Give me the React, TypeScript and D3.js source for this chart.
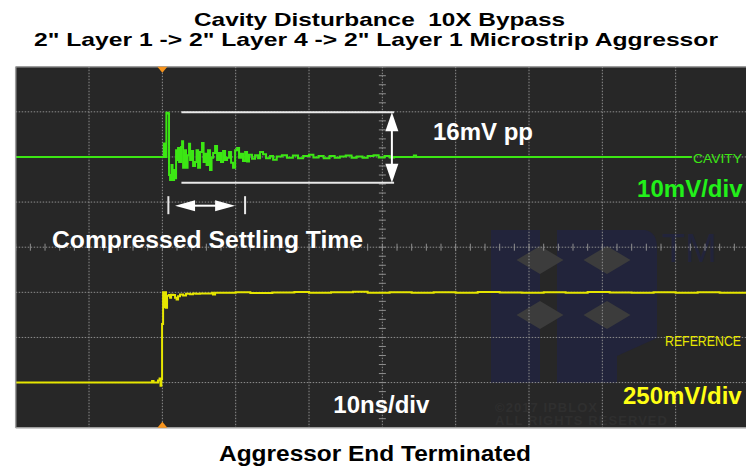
import React from 'react';
import * as d3 from 'd3';

// ---------- data ----------
const titleLines = ['Cavity Disturbance  10X Bypass', '2" Layer 1 -> 2" Layer 4 -> 2" Layer 1 Microstrip Aggressor'];
const footerText = 'Aggressor End Terminated';
const timeDomainNs: [number, number] = [-20, 80]; // 10 ns/div, 10 divisions
const divisionDomain: [number, number] = [-4, 4]; // 8 vertical divisions
const timeDivisions = 10;
const voltDivisions = 8;
const minorPerDiv = 5;

const cavityMvPerDiv = 10;
const cavityOffsetDiv = 2;
const referenceMvPerDiv = 250;
const referenceOffsetDiv = -3;

// [time ns, mV]
const cavitySamples: [number, number][] = [
  [-20, 0], [0, 0], [0.2, 3.0], [0.45, 0], [0.55, 9.8], [0.85, 9.6], [0.91, -4], [1.05, -5.1],
  [1.25, -1.8], [1.39, -5.1], [1.6, -2.9], [1.73, -4.7], [1.87, 1.5], [2.0, -0.7], [2.14, 2.0],
  [2.28, -1.1], [2.55, 2.2], [2.69, 3.5], [2.83, -2.4], [2.96, -1.8], [3.1, 1.5], [3.23, -2.4],
  [3.44, 0.4], [3.64, 2.9], [3.78, -0.7], [3.98, 1.3], [4.19, -2.0], [4.46, -1.1], [4.66, 1.5],
  [4.87, -2.4], [5.14, 1.1], [5.41, 3.1], [5.62, -1.1], [5.82, 0.7], [6.03, -1.8], [6.23, 1.5],
  [6.5, -2.9], [6.71, -0.2], [6.92, 0.9], [7.19, 2.4], [7.46, -0.7], [7.73, 0.9], [8.0, -1.1],
  [8.28, 1.3], [8.55, -0.7], [8.82, -0.2], [9.1, 1.1], [9.37, -1.3], [9.64, -2.4], [9.92, 1.5],
  [10.19, 2.0], [10.46, -0.2], [10.73, 0.7], [11.0, -0.9], [11.28, 1.1], [11.55, -1.0], [11.82, 0.5],
  [12.23, -0.4], [12.64, 0.4], [13.05, -0.3], [13.32, 1.1], [13.73, 0.6], [14.14, -0.3], [14.69, 0.2],
  [15.1, -0.6], [15.6, 0.1], [16.3, 0.4], [17, -0.2], [17.8, 0.3], [18.5, -0.3], [19.2, 0.2],
  [20, 0.5], [20.6, -0.1], [21.3, 0.2], [22, -0.3], [22.8, 0.2], [23.5, -0.2], [24.2, 0.1],
  [25, 0.3], [25.8, -0.2], [26.5, 0.1], [27.3, -0.2], [28, 0.2], [28.8, 0.4], [29.5, -0.1],
  [30.3, 0.2], [31, -0.1], [31.6, 0], [34, 0], [34.3, 0.3], [34.6, 0], [72.2, 0],
];

const referenceSamples: [number, number][] = [
  [-20, 0], [-1.68, 0], [-1.4, 9], [-1.2, 0], [-0.59, 11], [-0.38, 22], [-0.25, -17], [-0.14, 20],
  [-0.04, 324], [0.1, 500], [0.23, 480], [0.3, 418], [0.44, 500], [0.5, 415], [0.64, 481],
  [0.91, 485], [1.05, 470], [1.19, 487], [1.46, 485], [1.73, 470], [1.94, 460], [2.14, 478],
  [2.41, 488], [2.83, 482], [3.23, 492], [3.78, 490], [4.19, 494], [4.6, 492], [5.14, 494],
  [6.78, 497], [6.9, 488], [7.19, 497], [10, 500], [12, 496], [15, 499], [18, 502], [20, 497],
  [23, 500], [26, 503], [28, 498], [31, 500], [34, 497], [37, 501], [40, 498], [43, 502],
  [46, 499], [49, 497], [52, 501], [55, 498], [58, 502], [61, 499], [64, 497], [67, 501],
  [70, 498], [73, 500], [76, 497], [80, 500],
];

const ppMarkerMv = [9.9, -5.7];
const ppSpanNs = [2.6, 31.6];
const ppArrowNs = 31.3;
const settlingMarkersNs = [0.82, 11.28];
const settlingArrowNs = [1.73, 9.92];
const settlingArrowDiv = 0.92;

const ppLabel = '16mV pp';
const cavityScaleLabel = '10mV/div';
const referenceScaleLabel = '250mV/div';
const timeScaleLabel = '10ns/div';
const settlingLabel = 'Compressed Settling Time';
const cavityChannel = 'CAVITY';
const referenceChannel = 'REFERENCE';

// ---------- layout / style ----------
const W = 746;
const H = 473;
const SX0 = 15.7;
const SX1 = 749;
const SY0 = 66.7;
const SY1 = 427.7;
const BG = '#272727';
const GRID = '#8e8e8e';
const GREEN = '#3ce614';
const GREEN_TXT = '#22f01a';
const YELLOW = '#e6e600';
const YELLOW_TXT = '#ffff14';
const ORANGE = '#f7941d';
const NAVY = '#22243b';
const FONT = '"Liberation Sans", Arial, Helvetica, sans-serif';

export default function App() {
  const x = d3.scaleLinear().domain(timeDomainNs).range([SX0, SX1]);
  const y = d3.scaleLinear().domain(divisionDomain).range([SY1, SY0]);

  const cavY = (mv: number) => y(cavityOffsetDiv + mv / cavityMvPerDiv);
  const refY = (mv: number) => y(referenceOffsetDiv + mv / referenceMvPerDiv);

  const cavityLine = d3.line<[number, number]>().x(d => x(d[0])).y(d => cavY(d[1])).curve(d3.curveStepAfter);
  const referenceLine = d3.line<[number, number]>().x(d => x(d[0])).y(d => refY(d[1])).curve(d3.curveStepAfter);

  const tStep = (timeDomainNs[1] - timeDomainNs[0]) / timeDivisions;
  const vTicks = d3.range(1, timeDivisions).map(i => timeDomainNs[0] + i * tStep);
  const hTicks = d3.range(1, voltDivisions).map(j => divisionDomain[0] + j);
  const centerT = (timeDomainNs[0] + timeDomainNs[1]) / 2;
  const minorT = d3.range(timeDomainNs[0], timeDomainNs[1] + 0.001, tStep / minorPerDiv);
  const minorV = d3.range(divisionDomain[0], divisionDomain[1] + 0.001, 1 / minorPerDiv);

  const ppTop = cavY(ppMarkerMv[0]);
  const ppBot = cavY(ppMarkerMv[1]);
  const ax = x(ppArrowNs);
  const headL = 19;
  const headW = 6.5;

  const sy = y(settlingArrowDiv);
  const sxL = x(settlingArrowNs[0]);
  const sxR = x(settlingArrowNs[1]);
  const hHeadL = 20;
  const hHeadW = 5.5;

  const trig = x(0);

  return (
    <div style={{ width: W, height: H, overflow: 'hidden' }}>
      <style>{`html,body{margin:0;padding:0;overflow:hidden;}`}</style>
      <svg width={W} height={H} style={{ display: 'block', background: '#fff' }} fontFamily={FONT}>
        <defs>
          <clipPath id="screen">
            <rect x={SX0} y={SY0} width={SX1 - SX0} height={SY1 - SY0} />
          </clipPath>
        </defs>

        {/* titles */}
        <text x={194} y={26} fontSize={19} fontWeight="bold" textLength={371} lengthAdjust="spacingAndGlyphs" style={{ whiteSpace: 'pre' }}>{titleLines[0]}</text>
        <text x={34} y={46} fontSize={19} fontWeight="bold" textLength={684} lengthAdjust="spacingAndGlyphs">{titleLines[1]}</text>
        <text x={219} y={461} fontSize={22} fontWeight="bold" textLength={312} lengthAdjust="spacingAndGlyphs">{footerText}</text>

        {/* screen */}
        <rect x={SX0} y={SY0} width={W - SX0} height={SY1 - SY0} fill={BG} />

        <g clipPath="url(#screen)">
          {/* watermark */}
          <g>
            <rect x={491} y={230} width={49} height={153} fill={NAVY} />
            <rect x={557} y={230} width={60} height={153} fill={NAVY} />
            <path d="M617,230 L645,230 Q657,232 657,248 L657,338 L617,356 Z" fill={NAVY} />
            {[[540, 260], [607, 260], [540, 315], [607, 315]].map(([cx, cy], i) => (
              <path key={i} d={`M${cx - 23.5},${cy} L${cx},${cy - 14} L${cx + 23.5},${cy} L${cx},${cy + 14} Z`} fill="#3c3c3c" />
            ))}
            <text x={662} y={262} fontSize={40} fill={NAVY} textLength={55} lengthAdjust="spacingAndGlyphs">TM</text>
            <text x={495} y={411.5} fontSize={13} fontWeight="bold" fill="#2f2f2f" textLength={102} lengthAdjust="spacing">©2017 IPBLOX</text>
            <text x={495} y={424.5} fontSize={13} fontWeight="bold" fill="#2f2f2f" textLength={172} lengthAdjust="spacing">ALL RIGHTS RESERVED</text>
          </g>

          {/* grid */}
          {vTicks.map(t => (
            <line key={'v' + t} x1={x(t)} x2={x(t)} y1={SY0} y2={SY1} stroke={GRID} strokeWidth={1} strokeDasharray="1.5 1.5" />
          ))}
          {hTicks.map(d => (
            <line key={'h' + d} x1={SX0} x2={SX1} y1={y(d)} y2={y(d)} stroke={GRID} strokeWidth={1} strokeDasharray="1.5 1.5" />
          ))}
          {minorV.map(d => (
            <line key={'mv' + d} x1={x(centerT) - 3.5} x2={x(centerT) + 3.5} y1={y(d)} y2={y(d)} stroke={GRID} strokeWidth={1} />
          ))}
          {minorT.map(t => (
            <line key={'mt' + t} x1={x(t)} x2={x(t)} y1={y(0) - 3.5} y2={y(0) + 3.5} stroke={GRID} strokeWidth={1} />
          ))}

          {/* traces */}
          <path d={referenceLine(referenceSamples) || ''} fill="none" stroke={YELLOW} strokeWidth={2} />
          <path d={cavityLine(cavitySamples) || ''} fill="none" stroke={GREEN} strokeWidth={2} />
        </g>

        {/* border */}
        <line x1={SX0} x2={SX0} y1={SY0} y2={SY1} stroke="#9e9e9e" strokeWidth={1.5} />
        <line x1={SX0} x2={W} y1={SY0} y2={SY0} stroke="#9e9e9e" strokeWidth={1.5} />
        <line x1={SX0} x2={W} y1={SY1} y2={SY1} stroke="#9e9e9e" strokeWidth={1.5} />

        {/* trigger markers */}
        <path d={`M${trig - 5},${SY0} L${trig + 5},${SY0} L${trig},${SY0 + 6} Z`} fill={ORANGE} />
        <path d={`M${trig - 5},${SY1} L${trig + 5},${SY1} L${trig},${SY1 - 6} Z`} fill={ORANGE} />

        {/* channel labels */}
        <text x={693} y={163.3} fontSize={13.5} fill={GREEN} textLength={49} lengthAdjust="spacingAndGlyphs">{cavityChannel}</text>
        <text x={665} y={345.7} fontSize={14.5} fill={YELLOW} textLength={76} lengthAdjust="spacingAndGlyphs">{referenceChannel}</text>

        {/* pp annotation */}
        <g stroke="#e8e8e8" strokeWidth={2}>
          <line x1={x(ppSpanNs[0])} x2={x(ppSpanNs[1])} y1={ppTop} y2={ppTop} />
          <line x1={x(ppSpanNs[0])} x2={x(ppSpanNs[1])} y1={ppBot} y2={ppBot} />
          <line x1={ax} x2={ax} y1={ppTop + headL - 1} y2={ppBot - headL + 1} stroke="#fff" />
        </g>
        <path d={`M${ax},${ppTop} L${ax + headW},${ppTop + headL} L${ax - headW},${ppTop + headL} Z`} fill="#fff" />
        <path d={`M${ax},${ppBot} L${ax + headW},${ppBot - headL} L${ax - headW},${ppBot - headL} Z`} fill="#fff" />

        {/* settling annotation */}
        <g stroke="#e8e8e8" strokeWidth={2}>
          {settlingMarkersNs.map(t => (
            <line key={t} x1={x(t)} x2={x(t)} y1={sy - 9.5} y2={sy + 8.5} />
          ))}
          <line x1={sxL + hHeadL - 1} x2={sxR - hHeadL + 1} y1={sy} y2={sy} stroke="#fff" />
        </g>
        <path d={`M${sxL},${sy} L${sxL + hHeadL},${sy - hHeadW} L${sxL + hHeadL},${sy + hHeadW} Z`} fill="#fff" />
        <path d={`M${sxR},${sy} L${sxR - hHeadL},${sy - hHeadW} L${sxR - hHeadL},${sy + hHeadW} Z`} fill="#fff" />

        {/* scope annotations */}
        <text x={433} y={140} fontSize={24} fontWeight="bold" fill="#fff">{ppLabel}</text>
        <text x={742.5} y={196.7} fontSize={24} fontWeight="bold" fill={GREEN_TXT} textAnchor="end">{cavityScaleLabel}</text>
        <text x={52} y={248.3} fontSize={24} fontWeight="bold" fill="#fff" textLength={311} lengthAdjust="spacingAndGlyphs">{settlingLabel}</text>
        <text x={741.7} y={404.3} fontSize={24} fontWeight="bold" fill={YELLOW_TXT} textAnchor="end">{referenceScaleLabel}</text>
        <text x={333.3} y={413.3} fontSize={24} fontWeight="bold" fill="#fff">{timeScaleLabel}</text>
      </svg>
    </div>
  );
}
